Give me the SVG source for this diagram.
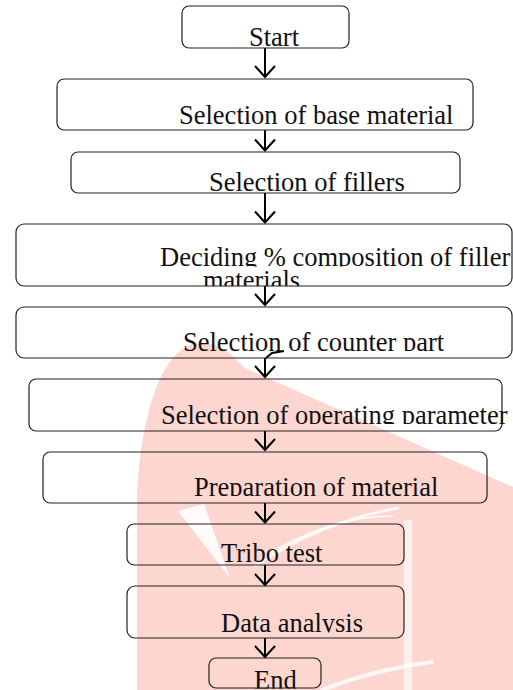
<svg xmlns="http://www.w3.org/2000/svg" width="513" height="690" viewBox="0 0 513 690">
<style>
.box{fill:none;stroke:#222;stroke-width:1.2}
.t{font-family:"Liberation Serif","Times New Roman",serif;font-size:26.5px;fill:#111}
.wm{fill:#fcd6cf}
.wl{fill:none;stroke:#fff;stroke-linecap:round;opacity:0.8}
.c{fill:none;stroke:#000;stroke-width:2}
</style>
<defs>
<marker id="chev" markerUnits="userSpaceOnUse" markerWidth="16" markerHeight="24" refX="12" refY="11" orient="auto" viewBox="0 0 16 22" overflow="visible">
<path d="M1,1 L12,11 L1,21" fill="none" stroke="#000" stroke-width="2"/>
</marker>
<clipPath id="k1"><rect x="0" y="0" width="513" height="46"/></clipPath>
<clipPath id="k2"><rect x="0" y="79" width="513" height="47"/></clipPath>
<clipPath id="k3"><rect x="0" y="152" width="513" height="40"/></clipPath>
<clipPath id="k4a"><rect x="0" y="224" width="513" height="42.5"/></clipPath>
<clipPath id="k4b"><rect x="0" y="266.5" width="513" height="19.5"/></clipPath>
<clipPath id="k5"><rect x="0" y="307" width="513" height="44"/></clipPath>
<clipPath id="k6"><rect x="0" y="379" width="513" height="45"/></clipPath>
<clipPath id="k7"><rect x="0" y="452" width="513" height="44"/></clipPath>
<clipPath id="k8"><rect x="0" y="524" width="513" height="38.5"/></clipPath>
<clipPath id="k9"><rect x="0" y="586" width="513" height="46.5"/></clipPath>
<clipPath id="k10"><rect x="0" y="658" width="513" height="30.5"/></clipPath>
</defs>
<rect x="0" y="0" width="513" height="690" fill="#fff"/>
<g id="watermark">
<path class="wm" d="M137,690 L137,500 C140,420 160,345 200,343 C220,342 232,355 245,368 L513,487 L513,690 Z"/>
<path d="M178,511 L204,504 L230,578 Z" fill="#fff" opacity="0.9"/>
<path class="wl" stroke-width="3" d="M255,566 Q320,522 398,508"/>
<path class="wl" stroke-width="2" d="M262,558 Q330,516 392,516"/>
<rect x="404" y="520" width="8" height="170" fill="#fff" opacity="0.6"/>
<path class="wl" stroke-width="4" d="M322,690 Q372,670 432,662"/>
</g>
<g id="connectors">
<line class="c" x1="265" y1="48" x2="265" y2="77" marker-end="url(#chev)"/>
<line class="c" x1="265" y1="130" x2="265" y2="150.5" marker-end="url(#chev)"/>
<line class="c" x1="265" y1="193" x2="265" y2="222.5" marker-end="url(#chev)"/>
<line class="c" x1="265" y1="286" x2="265" y2="305" marker-end="url(#chev)"/>
<line class="c" x1="265" y1="358" x2="265" y2="377" marker-end="url(#chev)"/>
<path class="c" stroke-width="1.6" d="M266,358 L272,353 L284,351"/>
<line class="c" x1="265" y1="431" x2="265" y2="450" marker-end="url(#chev)"/>
<line class="c" x1="265" y1="503" x2="265" y2="522.5" marker-end="url(#chev)"/>
<line class="c" x1="265" y1="565" x2="265" y2="585" marker-end="url(#chev)"/>
<line class="c" x1="265" y1="638" x2="265" y2="657" marker-end="url(#chev)"/>
</g>
<g id="start">
<rect class="box" x="182" y="6" width="167" height="42" rx="7"/>
<text class="t" x="249" y="46" clip-path="url(#k1)">Start</text>
</g>
<g id="base-material">
<rect class="box" x="57" y="79" width="416" height="51" rx="7"/>
<text class="t" x="179" y="124" clip-path="url(#k2)">Selection of base material</text>
</g>
<g id="fillers">
<rect class="box" x="71" y="152" width="389" height="41" rx="7"/>
<text class="t" x="209" y="191" clip-path="url(#k3)">Selection of fillers</text>
</g>
<g id="composition">
<rect class="box" x="16" y="224" width="496" height="62" rx="8"/>
<text class="t" x="160" y="266" clip-path="url(#k4a)">Deciding % composition of filler</text>
<text class="t" x="203" y="289" clip-path="url(#k4b)">materials</text>
</g>
<g id="counter-part">
<rect class="box" x="16" y="307" width="496" height="51" rx="8"/>
<text class="t" x="183" y="350.5" clip-path="url(#k5)">Selection of counter part</text>
</g>
<g id="operating-parameter">
<rect class="box" x="29" y="379" width="473" height="52" rx="7"/>
<text class="t" x="161" y="424" clip-path="url(#k6)">Selection of operating parameter</text>
</g>
<g id="preparation">
<rect class="box" x="43" y="452" width="444" height="51" rx="7"/>
<text class="t" x="194" y="495.5" clip-path="url(#k7)">Preparation of material</text>
</g>
<g id="tribo-test">
<rect class="box" x="127" y="524" width="277" height="41" rx="7"/>
<text class="t" x="221" y="562" clip-path="url(#k8)">Tribo test</text>
</g>
<g id="data-analysis">
<rect class="box" x="127" y="586" width="277" height="52" rx="8"/>
<text class="t" x="221" y="632" clip-path="url(#k9)">Data analysis</text>
</g>
<g id="end">
<rect class="box" x="209" y="658" width="112" height="30" rx="7"/>
<text class="t" x="254" y="688.5" clip-path="url(#k10)">End</text>
</g>
</svg>
